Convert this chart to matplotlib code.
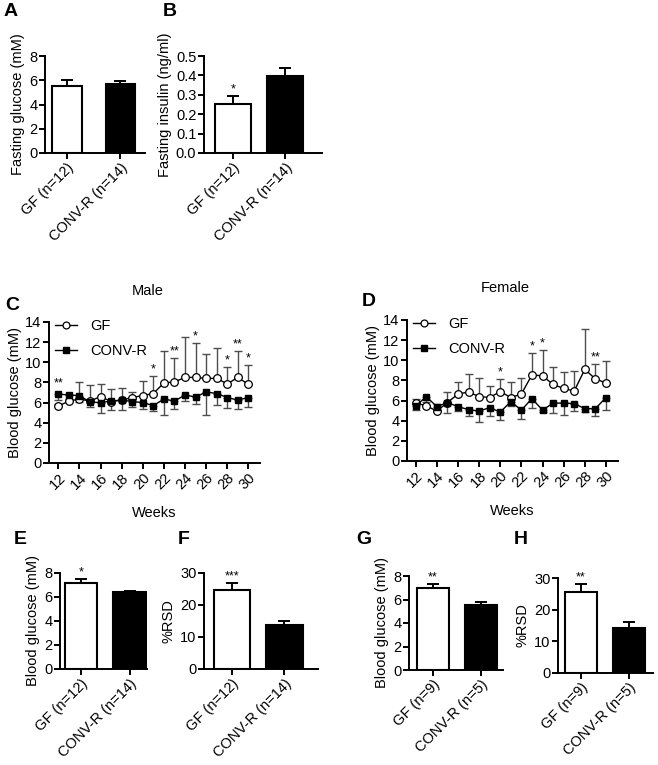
import matplotlib
matplotlib.use("Agg")
import matplotlib.pyplot as plt
import numpy as np

plt.rcParams['font.family'] = ['Liberation Sans', 'DejaVu Sans']
plt.rcParams['font.size'] = 10

W, H = 658, 765
fig = plt.figure(figsize=(W / 100, H / 100), dpi=100)

def ax_px(l, t, r, b):
    return fig.add_axes([l / W, 1 - b / H, (r - l) / W, (b - t) / H])

# ---------------- data ----------------
groups_12_14 = ["GF (n=12)", "CONV-R (n=14)"]
groups_9_5 = ["GF (n=9)", "CONV-R (n=5)"]

fast_glucose = [5.5, 5.65]
fast_glucose_err = [0.55, 0.3]
fast_insulin = [0.255, 0.395]
fast_insulin_err = [0.04, 0.045]

male_bg = [7.2, 6.4]
male_bg_err = [0.3, 0.12]
male_rsd = [24.8, 13.6]
male_rsd_err = [2.0, 1.4]
female_bg = [6.95, 5.5]
female_bg_err = [0.35, 0.25]
female_rsd = [25.7, 14.3]
female_rsd_err = [2.4, 1.8]

weeks = list(range(12, 31))
male_gf = [5.65, 6.15, 6.35, 6.15, 6.6, 6.1, 6.25, 6.5, 6.7, 6.9, 7.95, 8.05, 8.5, 8.5, 8.4, 8.4, 7.85, 8.5, 7.8]
male_gf_err = [0.25, 0.25, 1.7, 1.55, 1.2, 1.2, 1.15, 0.55, 1.45, 1.7, 3.15, 2.35, 4.0, 3.4, 2.45, 3.0, 1.7, 2.6, 1.9]
male_cr = [6.85, 6.75, 6.7, 6.05, 6.0, 6.15, 6.25, 6.1, 6.0, 5.7, 6.35, 6.15, 6.75, 6.55, 7.05, 6.9, 6.5, 6.25, 6.5]
male_cr_err = [0.55, 0.45, 0.6, 0.45, 1.0, 0.85, 0.95, 0.55, 0.65, 0.5, 1.55, 0.8, 0.6, 0.7, 2.3, 1.15, 1.0, 0.85, 0.9]
male_stars = {12: "**", 21: "*", 23: "**", 25: "*", 28: "*", 29: "**", 30: "*"}

female_gf = [5.75, 5.5, 4.95, 5.8, 6.65, 6.85, 6.4, 6.3, 6.9, 6.3, 6.65, 8.55, 8.45, 7.6, 7.2, 6.95, 9.1, 8.15, 7.75]
female_gf_err = [0.45, 0.4, 0.75, 1.05, 1.15, 1.75, 1.85, 1.15, 1.2, 1.55, 1.6, 2.15, 2.55, 1.75, 1.65, 1.95, 4.05, 1.45, 2.15]
female_cr = [5.45, 6.4, 5.4, 5.8, 5.4, 5.1, 4.95, 5.3, 4.85, 5.9, 5.05, 6.2, 5.05, 5.75, 5.75, 5.7, 5.2, 5.2, 6.3]
female_cr_err = [0.35, 0.8, 0.35, 1.0, 0.4, 0.6, 1.1, 0.8, 0.8, 0.4, 0.85, 0.95, 0.15, 0.95, 1.2, 0.75, 0.35, 0.75, 1.2]
female_stars = {20: "*", 23: "*", 24: "*", 29: "**"}

# ---------------- helpers ----------------
def style_axes(ax):
    for s in ("top", "right"):
        ax.spines[s].set_visible(False)
    for s in ("left", "bottom"):
        ax.spines[s].set_linewidth(1.4)
    ax.tick_params(direction="out", width=1.4, length=4, labelsize=10.5, pad=1.5)

def bar_panel(box, xlim, vals, errs, labels, ylim, yticks, yfmt, ylabel, letter, letter_xy,
              stars=None, width=0.62):
    ax = ax_px(*box)
    x = np.arange(len(vals))
    ax.bar(x, vals, width=width, color=["white", "black"], edgecolor="black", linewidth=1.5, zorder=2)
    ax.errorbar(x, vals, yerr=[np.zeros(len(errs)), errs], fmt="none", ecolor="black",
                elinewidth=1.4, capsize=4.5, capthick=1.4, zorder=1)
    ax.set_xlim(*xlim)
    ax.set_ylim(*ylim)
    ax.set_yticks(yticks)
    ax.set_yticklabels([yfmt.format(v) for v in yticks])
    ax.set_xticks(x)
    ax.set_xticklabels(labels, rotation=45, ha="right", rotation_mode="anchor")
    ax.set_ylabel(ylabel, fontsize=10.5, labelpad=3)
    style_axes(ax)
    if stars:
        for i, s in stars.items():
            ax.text(x[i], vals[i] + errs[i] + (ylim[1] - ylim[0]) * 0.005, s, ha="center",
                    va="bottom", fontsize=9)
    fig.text(letter_xy[0] / W, 1 - letter_xy[1] / H, letter, fontsize=14, fontweight="bold",
             ha="left", va="center")
    return ax

def line_panel(box, xlim, gf, gf_err, cr, cr_err, stars, title, title_xy, letter, letter_xy):
    ax = ax_px(*box)
    z = np.zeros(len(weeks))
    ax.errorbar(weeks, gf, yerr=[z, gf_err], fmt="none", ecolor="#4d4d4d", elinewidth=1.0,
                capsize=3, capthick=1.0, zorder=1)
    ax.errorbar(weeks, cr, yerr=[cr_err, z], fmt="none", ecolor="#4d4d4d", elinewidth=1.0,
                capsize=3, capthick=1.0, zorder=1)
    ax.plot(weeks, gf, color="black", lw=1.0, marker="o", ms=5.5, mfc="white", mec="black",
            mew=0.9, label="GF", zorder=2)
    ax.plot(weeks, cr, color="black", lw=1.0, marker="s", ms=5, mfc="black", mec="black",
            label="CONV-R", zorder=3)
    for w, s in stars.items():
        i = weeks.index(w)
        top = max(gf[i] + gf_err[i], cr[i] + 0.45)
        ax.text(w, top + 0.05, s, ha="center", va="bottom", fontsize=9)
    ax.set_xlim(*xlim)
    ax.set_ylim(0, 14)
    ax.set_yticks(range(0, 15, 2))
    ax.set_xticks(range(12, 31, 2))
    ax.set_xticklabels([str(v) for v in range(12, 31, 2)], rotation=45, ha="right",
                       rotation_mode="anchor")
    ax.set_ylabel("Blood glucose (mM)", fontsize=10.5, labelpad=2)
    ax.set_xlabel("Weeks", fontsize=10.5, labelpad=10)
    style_axes(ax)
    ax.legend(loc="upper left", bbox_to_anchor=(0.0, 1.06), frameon=False, fontsize=10.5,
              handlelength=1.5, handletextpad=0.9, labelspacing=0.75, borderaxespad=0,
              markerscale=0.9)
    fig.text(title_xy[0] / W, 1 - title_xy[1] / H, title, fontsize=10.5, ha="center", va="center")
    fig.text(letter_xy[0] / W, 1 - letter_xy[1] / H, letter, fontsize=14, fontweight="bold",
             ha="left", va="center")
    return ax

# ---------------- panels ----------------
bar_panel((45, 56, 145, 153), (-0.41, 1.46), fast_glucose, fast_glucose_err, groups_12_14,
          (0, 8), [0, 2, 4, 6, 8], "{:d}", "Fasting glucose (mM)", "A", (4, 12), width=0.55)
bar_panel((204, 56, 322, 153), (-0.56, 1.71), fast_insulin, fast_insulin_err, groups_12_14,
          (0, 0.5), [0.0, 0.1, 0.2, 0.3, 0.4, 0.5], "{:.1f}", "Fasting insulin (ng/ml)", "B",
          (163, 12), stars={0: "*"}, width=0.7)

line_panel((49, 322, 260, 463), (11.12, 31.1), male_gf, male_gf_err, male_cr, male_cr_err,
           male_stars, "Male", (148, 291), "C", (5, 305))
line_panel((407, 320, 618, 461), (11.18, 31.14), female_gf, female_gf_err, female_cr,
           female_cr_err, female_stars, "Female", (505, 288), "D", (362, 302))

bar_panel((60, 573, 147, 669), (-0.43, 1.36), male_bg, male_bg_err, groups_12_14,
          (0, 8), [0, 2, 4, 6, 8], "{:d}", "Blood glucose (mM)", "E", (14, 539),
          stars={0: "*"}, width=0.66)
bar_panel((204, 573, 318, 669), (-0.53, 1.64), male_rsd, male_rsd_err, groups_12_14,
          (0, 30), [0, 10, 20, 30], "{:d}", "%RSD", "F", (178, 539),
          stars={0: "***"}, width=0.69)
bar_panel((409, 576, 503, 670), (-0.5, 1.46), female_bg, female_bg_err, groups_9_5,
          (0, 8), [0, 2, 4, 6, 8], "{:d}", "Blood glucose (mM)", "G", (356, 539),
          stars={0: "**"}, width=0.67)
bar_panel((558, 578, 653, 673), (-0.48, 1.5), female_rsd, female_rsd_err, groups_9_5,
          (0, 30), [0, 10, 20, 30], "{:d}", "%RSD", "H", (514, 539),
          stars={0: "**"}, width=0.67)

fig.savefig("out.png", dpi=100, facecolor="white")
